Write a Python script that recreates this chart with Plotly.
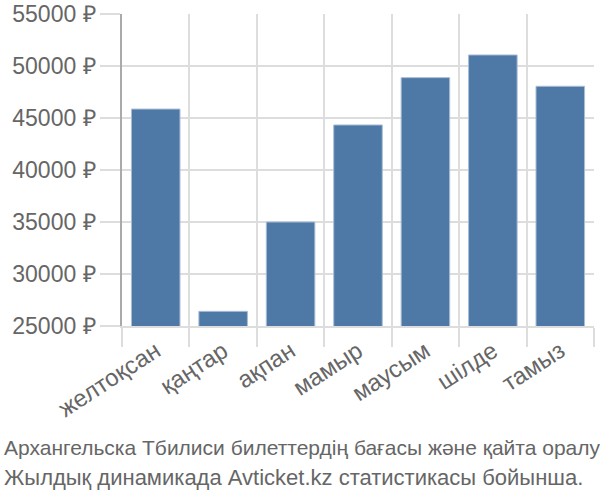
import plotly.graph_objects as go

months = ["желтоқсан", "қаңтар", "ақпан", "мамыр", "маусым", "шілде", "тамыз"]
prices = [45860, 26410, 35000, 44330, 48880, 51060, 48050]
y_ticks = [25000, 30000, 35000, 40000, 45000, 50000, 55000]
y_tick_text = [f"{v} ₽" for v in y_ticks]
caption = ["Архангельска Тбилиси билеттердің бағасы және қайта оралу",
           "Жылдық динамикада Avticket.kz статистикасы бойынша."]

font_family = "Liberation Sans, Arial, sans-serif"

fig = go.Figure(go.Bar(
    x=months, y=prices,
    marker=dict(color="#4e78a6", line=dict(color="#a9bdd6", width=1)),
    width=0.72,
))

fig.update_layout(
    width=600, height=500,
    margin=dict(l=122, r=6, t=14, b=174),
    paper_bgcolor="white", plot_bgcolor="white",
    font=dict(family=font_family, color="#666666"),
    showlegend=False,
    annotations=[
        dict(text=caption[0], xref="paper", yref="paper",
             x=-0.254, xanchor="left", y=-0.391, yanchor="middle",
             showarrow=False,
             font=dict(size=21, color="#666666", family=font_family)),
        dict(text=caption[1], xref="paper", yref="paper",
             x=-0.254, xanchor="left", y=-0.487, yanchor="middle",
             showarrow=False,
             font=dict(size=22, color="#666666", family=font_family)),
    ],
)

fig.update_xaxes(
    type="category", tickson="boundaries", automargin=False,
    showgrid=True, gridcolor="#dddddd", gridwidth=1.5,
    ticks="outside", ticklen=19, tickcolor="#dddddd", tickwidth=1.5,
    tickangle=-33, tickfont=dict(size=24, color="#666666"),
    showline=True, linecolor="#dddddd", linewidth=1.5,
)
fig.update_yaxes(
    range=[25000, 55000], tickvals=y_ticks, ticktext=y_tick_text,
    automargin=False,
    showgrid=True, gridcolor="#dddddd", gridwidth=1.5,
    ticks="outside", ticklen=20, tickcolor="#dddddd", tickwidth=1.5,
    tickfont=dict(size=23, color="#666666"),
    showline=True, linecolor="#aaaaaa", linewidth=1.5,
    zeroline=False,
)

fig.write_html("out.html")
